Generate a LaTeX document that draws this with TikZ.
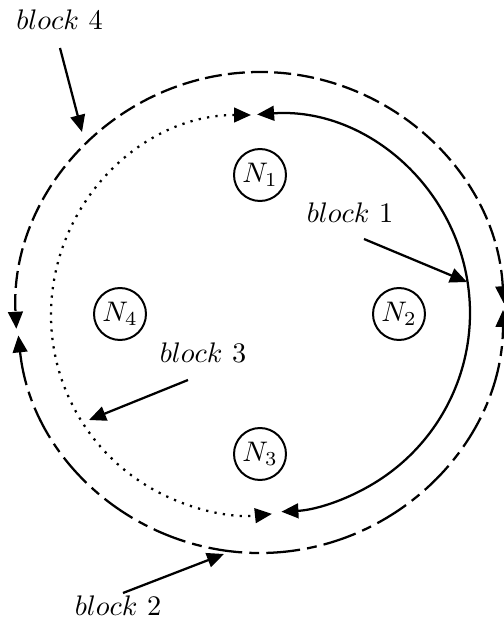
\documentclass[tikz,border=0pt]{standalone}
\usetikzlibrary{arrows.meta}
\begin{document}
\begin{tikzpicture}[x=0.3533pt,y=0.3533pt,
  tri/.tip={Triangle[length=6pt,width=5.2pt]},
  bothtips/.style={tri-tri},
  arcline/.style={line width=0.8pt},
  nd/.style={circle,draw,line width=0.7pt,inner sep=1.2pt},
  lbl/.style={inner sep=0pt},
  pointer/.style={-tri,line width=0.8pt}]
\useasboundingbox (0,0) rectangle (504,619);
% centres of the arcs
\coordinate (cOne) at (271,306);
\coordinate (cThree) at (251,304);
\coordinate (cFour) at (260,303);
\coordinate (cTwo) at (260,309);
% nodes
\node[nd] (N1) at (260,444) {$N_1$};
\node[nd] (N2) at (399,305) {$N_2$};
\node[nd] (N3) at (260,165) {$N_3$};
\node[nd] (N4) at (120,305) {$N_4$};
% block arcs
\draw[bothtips,arcline] (cOne) ++(94:199) arc[start angle=94,end angle=-87,radius=199];
\draw[bothtips,arcline,dash pattern=on 0.8pt off 2.2pt] (cThree) ++(90:200) arc[start angle=90,end angle=276,radius=200];
\draw[bothtips,arcline,dash pattern=on 6pt off 2.2pt] (cFour) ++(3:244) arc[start angle=3,end angle=183,radius=244];
\draw[bothtips,arcline,dash pattern=on 12pt off 2.5pt on 3.5pt off 2.5pt] (cTwo) ++(186:243) arc[start angle=186,end angle=360,radius=243];
% labels
\node[lbl] (L4) at (59.5,599) {$block$ 4};
\node[lbl] (L1) at (350,406) {$block$ 1};
\node[lbl] (L3) at (203,266) {$block$ 3};
\node[lbl] (L2) at (118,13) {$block$ 2};
\coordinate (s4) at (60,571);  \coordinate (t4) at (82,487);
\coordinate (s1) at (364,380); \coordinate (t1) at (467,337);
\coordinate (s3) at (188,239); \coordinate (t3) at (89,199);
\coordinate (s2) at (123,26);  \coordinate (t2) at (224,65);
\draw[pointer] (s4) -- (t4);
\draw[pointer] (s1) -- (t1);
\draw[pointer] (s3) -- (t3);
\draw[pointer] (s2) -- (t2);
\end{tikzpicture}
\end{document}
